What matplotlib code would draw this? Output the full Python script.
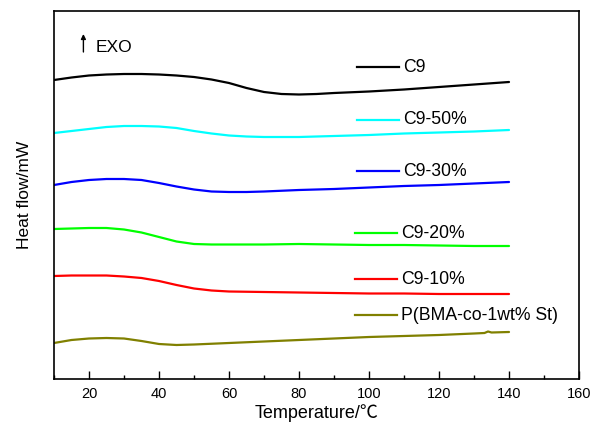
import matplotlib
matplotlib.use("Agg")
import matplotlib.pyplot as plt
from matplotlib.ticker import MultipleLocator, NullLocator

plt.rcParams['font.family'] = ['Liberation Sans', 'Noto Sans CJK SC', 'DejaVu Sans']
plt.rcParams['font.size'] = 10

# DSC traces (heat flow, arbitrary offset units) vs temperature (°C)
t_c9 = [10, 15, 20, 25, 30, 35, 40, 45, 50, 55, 60, 65, 70, 75, 80, 85, 90, 100, 110, 120, 130, 140]
hf_c9 = [299, 301.5, 303.5, 304.5, 305, 305, 304.5, 303.5, 302, 299.5, 296, 291, 287, 285,
         284.5, 285, 286, 287.5, 289.5, 292, 294.5, 297]

t_c9_50 = [10, 15, 20, 25, 30, 35, 40, 45, 50, 55, 60, 65, 70, 75, 80, 90, 100, 110, 120, 130, 140]
hf_c9_50 = [246, 248, 250, 252, 253, 253, 252.5, 251, 248, 245.5, 243.5, 242.5, 242, 242, 242,
            243, 244, 245.5, 246.5, 247.5, 249]

t_c9_30 = [10, 15, 20, 25, 30, 35, 40, 45, 50, 55, 60, 65, 70, 80, 90, 100, 110, 120, 130, 140]
hf_c9_30 = [194, 197, 199, 200, 200, 199, 196, 192.5, 189.5, 187.5, 187, 187, 187.5, 189, 190,
            191.5, 193, 194, 195.5, 197]

t_c9_20 = [10, 15, 20, 25, 30, 35, 40, 45, 50, 55, 60, 70, 80, 90, 100, 110, 120, 130, 140]
hf_c9_20 = [150, 150.5, 151, 151, 149.5, 146.5, 142, 137.5, 135, 134.5, 134.5, 134.5, 135, 134.5,
            134, 134, 133.5, 133, 133]

t_c9_10 = [10, 15, 20, 25, 30, 35, 40, 45, 50, 55, 60, 70, 80, 90, 100, 110, 120, 130, 140]
hf_c9_10 = [103, 103.5, 103.5, 103.5, 102.5, 101, 98, 94, 90.5, 88.5, 87.5, 87, 86.5, 86, 85.5,
            85.5, 85, 85, 85]

t_pbma = [10, 15, 20, 25, 30, 35, 40, 45, 50, 60, 70, 80, 90, 100, 110, 120, 130, 133, 134, 135, 140]
hf_pbma = [36, 39, 40.5, 41, 40.5, 38, 35, 34, 34.5, 36, 37.5, 39, 40.5, 42, 43, 44, 45.5, 46,
           47.5, 46.5, 47]

labels = ['C9', 'C9-50%', 'C9-30%', 'C9-20%', 'C9-10%', 'P(BMA-co-1wt% St)']
colors = ['#000000', '#00FFFF', '#0000FF', '#00FF00', '#FF0000', '#808000']
series = [(t_c9, hf_c9), (t_c9_50, hf_c9_50), (t_c9_30, hf_c9_30),
          (t_c9_20, hf_c9_20), (t_c9_10, hf_c9_10), (t_pbma, hf_pbma)]

fig = plt.figure(figsize=(5.91, 4.23), dpi=100)
ax = fig.add_axes([54 / 591, 44 / 423, 525 / 591, 368 / 423])

for (t, hf), c in zip(series, colors):
    ax.plot(t, hf, color=c, lw=1.6, solid_capstyle='round')

# in-plot keys next to each trace
key_y = [312, 259, 208, 146, 100, 64]
key_x0 = [96.6, 96.6, 96.6, 96.0, 96.0, 96.0]
for lab, c, y, x0 in zip(labels, colors, key_y, key_x0):
    ax.plot([x0, x0 + 12], [y, y], color=c, lw=1.6)
    ax.text(x0 + 13.2, y, lab, va='center', ha='left', fontsize=12.7)

# exotherm direction marker
ax.annotate('', xy=(18.4, 345), xytext=(18.4, 327),
            arrowprops=dict(arrowstyle='-|>', color='black', lw=1.0,
                            mutation_scale=7, shrinkA=0, shrinkB=0))
ax.text(21.8, 331, 'EXO', va='center', ha='left', fontsize=12.5)

ax.set_xlim(10, 160)
ax.set_ylim(0, 368)
ax.xaxis.set_major_locator(MultipleLocator(20))
ax.xaxis.set_minor_locator(MultipleLocator(10))
ax.yaxis.set_major_locator(NullLocator())
ax.tick_params(axis='x', which='major', direction='in', length=6, width=1, labelsize=10.5, pad=6)
ax.tick_params(axis='x', which='minor', direction='in', length=3, width=1)
for s in ax.spines.values():
    s.set_linewidth(1.2)

ax.set_xlabel('Temperature/℃', fontsize=13, labelpad=2)
ax.set_ylabel('Heat flow/mW', fontsize=12.5, labelpad=16)

fig.savefig('out.png', dpi=100)
